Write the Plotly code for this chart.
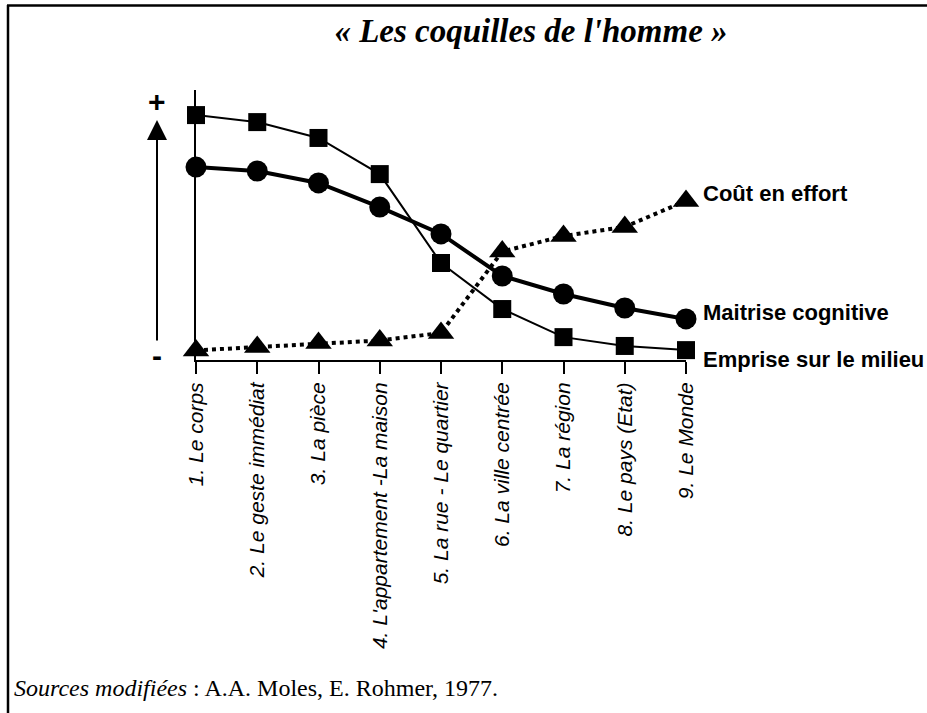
import plotly.graph_objects as go

# ---- data ----
categories = ["1. Le corps", "2. Le geste immédiat", "3. La pièce",
              "4. L'appartement -La maison", "5. La rue - Le quartier",
              "6. La ville centrée", "7. La région", "8. Le pays (Etat)",
              "9. Le Monde"]
positions = [1, 2, 3, 4, 5, 6, 7, 8, 9]
emprise = [94.2, 91.5, 85.4, 71.5, 37.3, 19.6, 8.8, 5.4, 3.8]      # squares
maitrise = [74.2, 72.7, 68.1, 58.8, 48.5, 32.3, 25.4, 20.0, 15.8]  # circles
cout = [3.7, 5.0, 6.5, 7.5, 10.4, 41.7, 47.7, 51.2, 61.2]          # triangles
series_labels = ["Coût en effort", "Maitrise cognitive", "Emprise sur le milieu"]
title_text = "« Les coquilles de l'homme »"
source_italic = "Sources modifiées"
source_rest = " : A.A. Moles, E. Rohmer, 1977."

W, H = 927, 713
L, R, T, B = 196, 686, 90, 360


def px(x):
    return (x - L) / (R - L)


def py(y):
    return (B - y) / (B - T)


fig = go.Figure()

fig.add_trace(go.Scatter(
    x=positions, y=cout, mode="lines+markers", cliponaxis=False,
    line=dict(color="black", width=4, dash="dot"),
    marker=dict(symbol="triangle-up", size=23, color="black"),
    showlegend=False))
fig.add_trace(go.Scatter(
    x=positions, y=emprise, mode="lines+markers", cliponaxis=False,
    line=dict(color="black", width=2),
    marker=dict(symbol="square", size=18, color="black"),
    showlegend=False))
fig.add_trace(go.Scatter(
    x=positions, y=maitrise, mode="lines+markers", cliponaxis=False,
    line=dict(color="black", width=4),
    marker=dict(symbol="circle", size=21, color="black"),
    showlegend=False))

ann = []
# series labels at the right end of each line
lab_font = dict(family="Liberation Sans, Arial, sans-serif", size=22, color="black")
for text, ypix in zip(series_labels, [193, 312, 359]):
    ann.append(dict(x=px(701), y=py(ypix), xref="paper", yref="paper",
                    text="<b>" + text + "</b>", showarrow=False,
                    xanchor="left", yanchor="middle", font=lab_font))

# vertical arrow with + and -
ann.append(dict(x=px(157), y=py(120), xref="paper", yref="paper",
                ax=0, ay=222, axref="pixel", ayref="pixel", text="",
                showarrow=True, arrowhead=2, arrowsize=2.0, arrowwidth=2,
                arrowcolor="black"))
ann.append(dict(x=px(157), y=py(102), xref="paper", yref="paper", text="<b>+</b>",
                xanchor="center", yanchor="middle",
                showarrow=False, font=dict(family="Liberation Sans", size=30, color="black")))
ann.append(dict(x=px(157), y=py(355), xref="paper", yref="paper", text="<b>-</b>",
                xanchor="center", yanchor="middle",
                showarrow=False, font=dict(family="Liberation Sans", size=30, color="black")))

# source line
ann.append(dict(x=px(12), y=py(688), xref="paper", yref="paper",
                text="<i>" + source_italic + "</i>" + source_rest,
                showarrow=False, xanchor="left", yanchor="middle",
                font=dict(family="Liberation Serif, serif", size=24, color="black")))

shapes = [
    dict(type="line", xref="paper", yref="paper", x0=px(7), x1=px(927), y0=py(5.5), y1=py(5.5),
         line=dict(color="black", width=2.5)),
    dict(type="line", xref="paper", yref="paper", x0=px(8), x1=px(8), y0=py(5), y1=py(713),
         line=dict(color="black", width=2.5)),
]

fig.update_layout(
    width=W, height=H,
    margin=dict(l=L, r=W - R, t=T, b=H - B, pad=0),
    paper_bgcolor="white", plot_bgcolor="white",
    title=dict(text="<b><i>" + title_text + "</i></b>", xref="container", yref="container",
               x=531 / W, y=1 - 30 / H, xanchor="center", yanchor="middle",
               font=dict(family="Liberation Serif, serif", size=33, color="black")),
    xaxis=dict(range=[1, 9], tickmode="array", tickvals=positions, ticktext=categories,
               tickangle=-90, ticks="outside", ticklen=12, tickwidth=2, tickcolor="black",
               showline=True, linecolor="black", linewidth=2, showgrid=False, zeroline=False,
               tickfont=dict(family="Liberation Sans, Arial, sans-serif", size=21, color="black",
                             style="italic")),
    yaxis=dict(range=[0, (B - T) / 2.6], showline=True, linecolor="black", linewidth=2,
               showgrid=False, zeroline=False, showticklabels=False, ticks=""),
    annotations=ann, shapes=shapes,
)

fig.write_html("out.html", config={"displayModeBar": False},
               post_script="document.body.style.margin='0';document.body.style.overflow='hidden';")
